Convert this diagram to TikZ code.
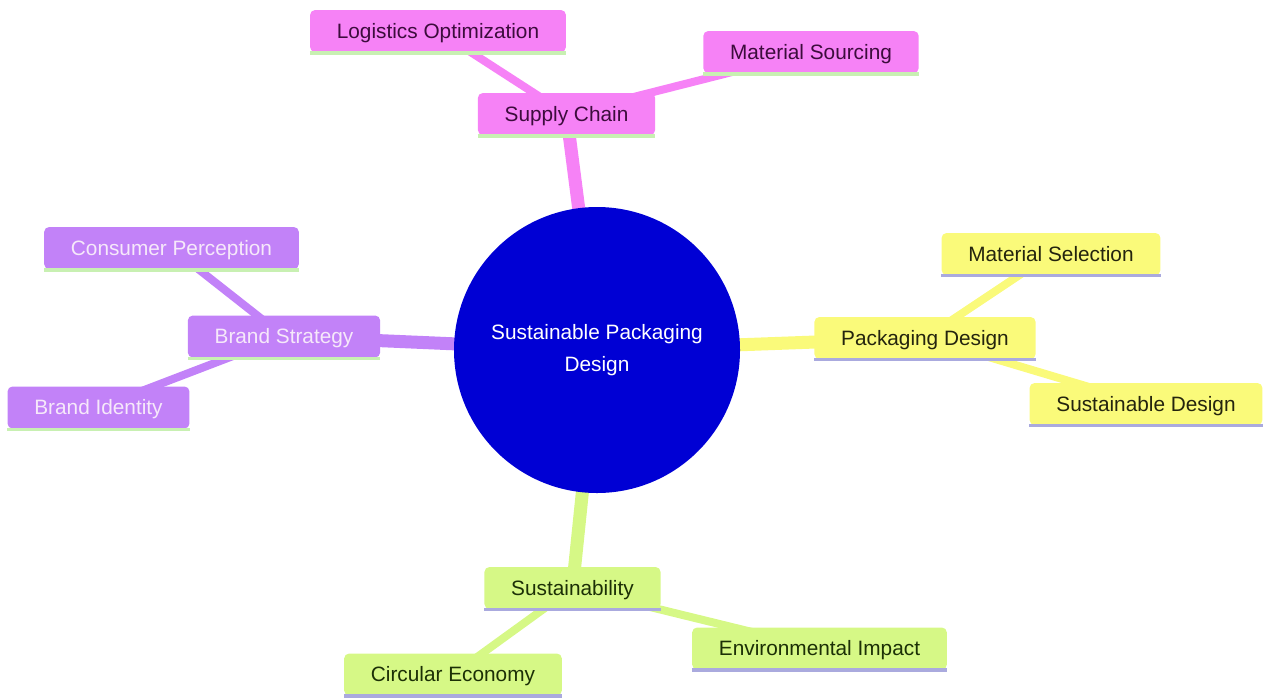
\documentclass[tikz,border=0pt]{standalone}
\usepackage{fontspec}
\setmainfont{Liberation Sans}
\pgfdeclarelayer{background}
\pgfsetlayers{background,main}
\definecolor{rootblue}{RGB}{0,0,212}
\definecolor{pinkfill}{RGB}{246,130,246}
\definecolor{pinktext}{RGB}{60,12,60}
\definecolor{purplefill}{RGB}{194,130,248}
\definecolor{purpletext}{RGB}{246,232,250}
\definecolor{yellowfill}{RGB}{250,250,122}
\definecolor{yellowtext}{RGB}{36,36,14}
\definecolor{greenfill}{RGB}{214,248,134}
\definecolor{greentext}{RGB}{28,48,6}
\definecolor{lightgreenline}{RGB}{200,240,178}
\definecolor{lavenderline}{RGB}{170,170,222}
\begin{document}
\begin{tikzpicture}[x=1pt,y=-1pt,
  mbox/.style={rectangle, rounded corners=5pt, minimum height=42pt, inner xsep=26.8pt, inner ysep=0pt,
    text height=15pt, text depth=0.5pt,
    font=\fontsize{20.8}{25}\selectfont},
  pinkbox/.style={mbox, fill=pinkfill, text=pinktext},
  purplebox/.style={mbox, fill=purplefill, text=purpletext},
  yellowbox/.style={mbox, fill=yellowfill, text=yellowtext},
  greenbox/.style={mbox, fill=greenfill, text=greentext},
  rootnode/.style={circle, fill=rootblue, minimum size=286pt, inner sep=0pt, text=white, align=center,
    font=\fontsize{20.8}{32}\selectfont},
  edgezero/.style={line width=13pt},
  edgeone/.style={line width=8pt},
  uline/.style={line width=3.5pt}
]
\useasboundingbox (0,0) rectangle (1263,697);

% root
\node[rootnode] (root) at (597,350) {\raisebox{-2pt}{Sustainable Packaging}\\\raisebox{-2pt}{Design}};

% supply chain (pink)
\node[pinkbox] (sc) at (566.5,114) {Supply Chain};
\node[pinkbox] (lo) at (438,31) {Logistics Optimization};
\node[pinkbox] (ms) at (811,52) {Material Sourcing};

% brand strategy (purple)
\node[purplebox] (bs) at (284,336.5) {Brand Strategy};
\node[purplebox] (cp) at (171.5,248) {Consumer Perception};
\node[purplebox] (bi) at (98.5,407.5) {Brand Identity};

% packaging design (yellow)
\node[yellowbox] (pd) at (925,338) {Packaging Design};
\node[yellowbox] (msel) at (1051,254) {Material Selection};
\node[yellowbox] (sd) at (1146,404) {Sustainable Design};

% sustainability (green)
\node[greenbox] (sus) at (572.5,588) {Sustainability};
\node[greenbox] (ce) at (453,674.5) {Circular Economy};
\node[greenbox] (ei) at (819.5,648.5) {Environmental Impact};

% underlines
\foreach \n in {sc,lo,ms,bs,cp,bi}{
  \draw[uline, lightgreenline] ([yshift=-1pt]\n.south west) -- ([yshift=-1pt]\n.south east);
}
\foreach \n in {pd,msel,sd,sus,ce,ei}{
  \draw[uline, lavenderline] ([yshift=-0.5pt]\n.south west) -- ([yshift=-0.5pt]\n.south east);
}

\begin{pgfonlayer}{background}
  \draw[edgezero, pinkfill] (root.center) -- (sc.center);
  \draw[edgeone, pinkfill] (sc.center) -- (lo.center);
  \draw[edgeone, pinkfill] (sc.center) -- (ms.center);
  \draw[edgezero, purplefill] (root.center) -- (bs.center);
  \draw[edgeone, purplefill] (bs.center) -- (cp.center);
  \draw[edgeone, purplefill] (bs.center) -- (bi.center);
  \draw[edgezero, yellowfill] (root.center) -- (pd.center);
  \draw[edgeone, yellowfill] (pd.center) -- (msel.center);
  \draw[edgeone, yellowfill] (pd.center) -- (sd.center);
  \draw[edgezero, greenfill] (root.center) -- (sus.center);
  \draw[edgeone, greenfill] (sus.center) -- (ce.center);
  \draw[edgeone, greenfill] (sus.center) -- (ei.center);
\end{pgfonlayer}
\end{tikzpicture}
\end{document}
